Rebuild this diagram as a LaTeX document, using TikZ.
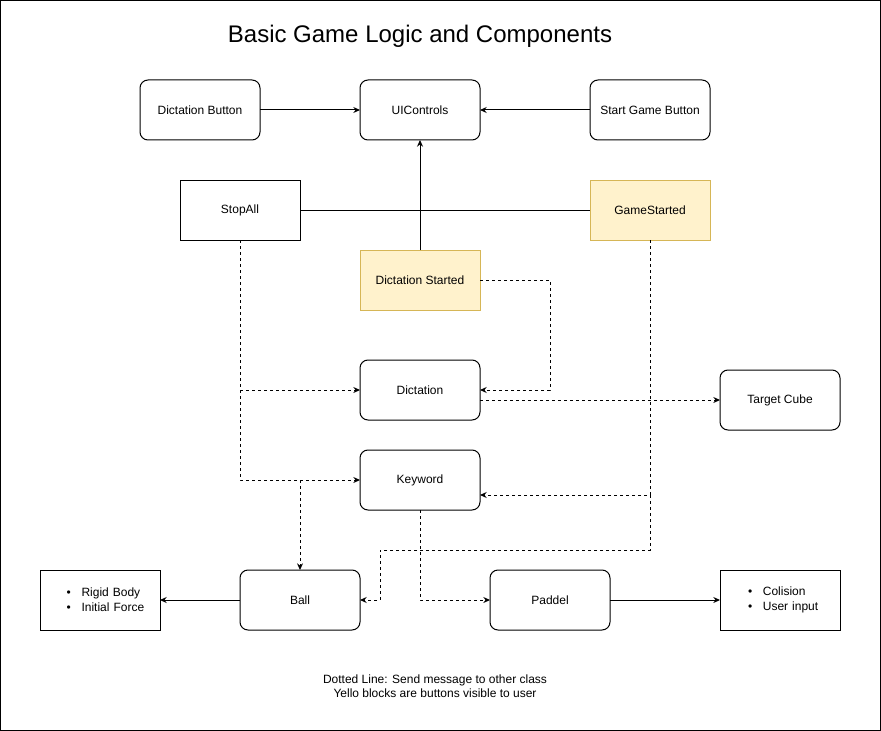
\documentclass[tikz,border=0pt]{standalone}
\usepackage{fontspec}
\setmainfont{Liberation Sans}
\usetikzlibrary{arrows.meta}
\definecolor{btnfill}{HTML}{FFF2CC}
\definecolor{btnline}{HTML}{D6B656}
\begin{document}
\begin{tikzpicture}[x=.75pt,y=-.75pt,line width=.75pt,
    box/.style={draw,minimum width=90pt,minimum height=45pt,inner sep=0pt,outer sep=0pt,font=\fontsize{9}{11}\selectfont},
    rbox/.style={box,rounded corners=6pt},
    btn/.style={box,fill=btnfill,draw=btnline},
    listbox/.style={box,text width=90pt,align=left},
    msg/.style={dash pattern=on 2.25pt off 2.25pt},
    >={Stealth[length=5pt,width=4.5pt]}]
                \useasboundingbox (0,0) rectangle (881,731);
                \draw (.5,.5) rectangle (880.5,730.5);
                \node (title) at (420,36.5) {\fontsize{18}{22}\selectfont Basic Game Logic and Components};
                \node[rbox] (dbtn) at (200,110) {Dictation Button};
                \node[rbox] (ui) at (420,110) {UIControls};
                \node[rbox] (sbtn) at (650,110) {Start Game Button};
                \node[box] (stop) at (240,210) {StopAll};
                \node[btn] (gs) at (650,210) {GameStarted};
                \node[btn] (ds) at (420,280) {Dictation Started};
                \node[rbox] (dict) at (420,390) {Dictation};
                \node[rbox] (tc) at (780,400) {Target Cube};
                \node[rbox] (key) at (420,480) {Keyword};
                \node[listbox] (rb) at (100,600) {\hspace*{20pt}\textbullet\hspace{8pt}Rigid Body\\\hspace*{20pt}\textbullet\hspace{8pt}Initial Force};
                \node[rbox] (ball) at (300,600) {Ball};
                \node[rbox] (pad) at (550,600) {Paddel};
                \node[listbox] (col) at (780,600) {\hspace*{21pt}\textbullet\hspace{8pt}Colision\\\hspace*{21pt}\textbullet\hspace{8pt}User input};
                \node[font=\fontsize{9}{10.5}\selectfont,align=center] (note) at (435,686) {Dotted Line: Send message to other class\\Yello blocks are buttons visible to user};
                \coordinate (dsturn) at (550,280);
                \coordinate (kwin) at (480,495);
                \coordinate (gsturn) at (650,550);
                \coordinate (ballturn) at (380,550);
                % solid links
                \draw[->] (dbtn) -- (ui);
                \draw[->] (sbtn) -- (ui);
                \draw[->] (ds) -- (ui);
                \draw (stop) -- (gs);
                \draw[->] (ball) -- (rb);
                \draw[->] (pad) -- (col);
                % messages
                \draw[msg,->] (ds.east) -- (dsturn) |- (dict.east);
                \draw[msg,->] (stop.south) |- (key.west);
                \draw[msg,->] (stop.south |- dict.west) -- (dict.west);
                \draw[msg,->] (ball.north |- key.west) -- (ball.north);
                \draw[msg,->] (dict.east |- tc.west) -- (tc.west);
                \draw[msg,->] (gs.south) |- (kwin);
                \draw[msg,->] (gs.south |- kwin) -- (gsturn) -- (ballturn) |- (ball.east);
                \draw[msg,->] (key.south) |- (pad.west);
\end{tikzpicture}
\end{document}
